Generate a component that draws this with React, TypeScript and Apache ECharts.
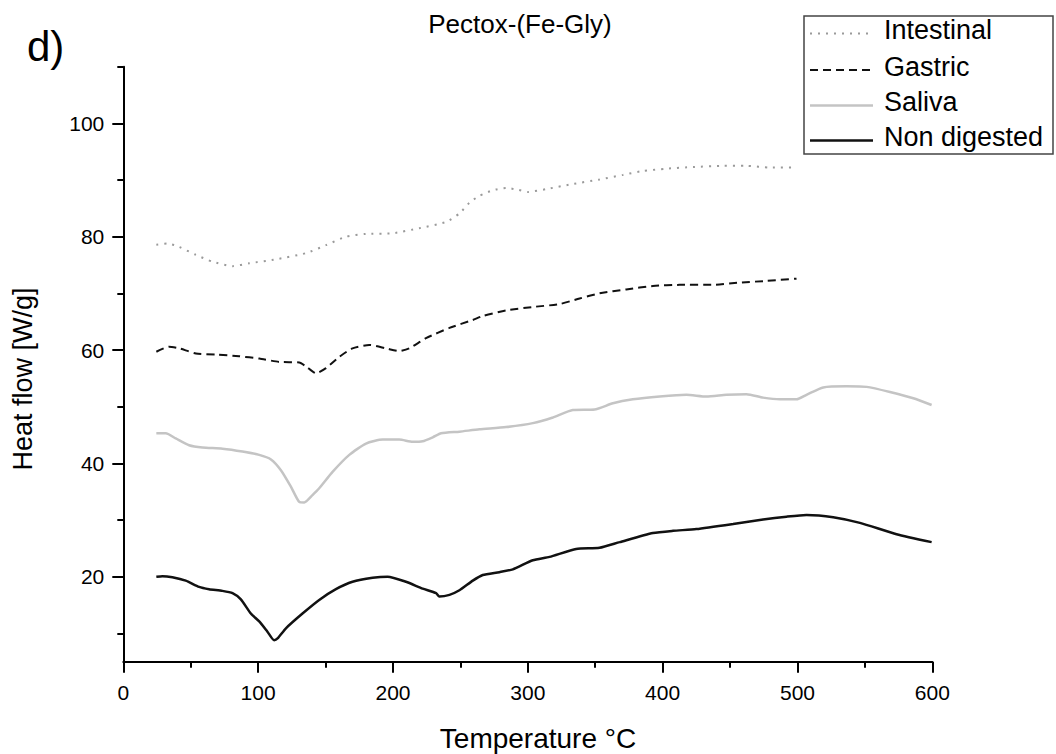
import React, { useEffect, useRef } from "react";
import * as echarts from "echarts";

const chartTitle = "Pectox-(Fe-Gly)";
const panelLabel = "d)";
const xTitle = "Temperature °C";
const yTitle = "Heat flow [W/g]";
const seriesNames = ["Intestinal", "Gastric", "Saliva", "Non digested"];
const yMajorTicks = [20, 40, 60, 80, 100];
const yMinorTicks = [10, 30, 50, 70, 90, 110];

const intestinal: number[][] = [
  [24.5, 78.6], [32.7, 78.8], [41.4, 78.2], [53.8, 76.8], [66.1, 75.6], [81, 74.8],
  [93.3, 75.3], [113.2, 76.0], [135.5, 77.1], [150.3, 78.5], [165.1, 80.0], [180, 80.5],
  [199.7, 80.6], [219.5, 81.5], [239.4, 82.6], [249.3, 84.1], [256.7, 86.0], [264, 87.2],
  [274, 88.2], [284, 88.6], [292.6, 88.3], [300, 87.9], [313.7, 88.4], [333.4, 89.3],
  [353.2, 90.1], [370.5, 90.9], [385.4, 91.6], [402.8, 92.0], [422.5, 92.3], [444.8, 92.5],
  [462.2, 92.5], [479.5, 92.2], [499.3, 92.2],
];

const gastric: number[][] = [
  [24.5, 59.7], [33.9, 60.6], [41.4, 60.3], [53.8, 59.4], [68.6, 59.2], [85.9, 58.9],
  [100.8, 58.5], [115.6, 57.9], [130.5, 57.8], [135.5, 57.1], [142.9, 55.9], [150.3, 56.8],
  [160.2, 58.8], [170, 60.3], [182.4, 60.9], [194.8, 60.3], [204.7, 59.8], [212.1, 60.3],
  [224.5, 62.1], [241.9, 63.9], [259.2, 65.3], [266.6, 66.0], [283.9, 67.0], [303.7, 67.6],
  [323.5, 68.1], [338.4, 69.1], [353.2, 70.0], [373, 70.7], [392.8, 71.3], [412.7, 71.5],
  [437.4, 71.5], [457.2, 71.9], [477, 72.2], [499.3, 72.6],
];

const saliva: number[][] = [
  [24.5, 45.3], [31.5, 45.3], [38.9, 44.4], [48.8, 43.2], [58.7, 42.8], [73.5, 42.6],
  [88.4, 42.1], [100.8, 41.5], [109.5, 40.7], [116.9, 38.8], [124.3, 35.9], [130.5, 33.2],
  [134.2, 33.1], [140.3, 34.4], [145.3, 35.6], [155.2, 38.5], [167.6, 41.5], [180, 43.5],
  [192.4, 44.2], [204.7, 44.2], [214.6, 43.8], [222, 43.9], [229.5, 44.6], [235.7, 45.3],
  [249.3, 45.6], [264.1, 46.0], [283.9, 46.4], [303.7, 47.1], [318.6, 48.1], [333.4, 49.4],
  [349.5, 49.5], [363.1, 50.6], [377.9, 51.3], [397.8, 51.8], [417.6, 52.1], [432.5, 51.8],
  [447.3, 52.1], [462.2, 52.2], [474.5, 51.6], [486.9, 51.3], [499.3, 51.3], [506.7, 52.1],
  [519.1, 53.4], [536.4, 53.6], [551.3, 53.5], [568.6, 52.6], [585.9, 51.5], [599.5, 50.3],
];

const nonDigested: number[][] = [
  [24.5, 20.0], [29, 20.1], [36.4, 19.9], [46.3, 19.3], [56.2, 18.2], [63.6, 17.8],
  [73.5, 17.5], [81, 17.1], [87.2, 16.0], [94.6, 13.5], [100.8, 12.1], [106.9, 10.3],
  [111.9, 8.8], [114.4, 9.1], [120.6, 10.9], [132.9, 13.5], [145.3, 15.9], [157.7, 17.8],
  [170, 19.1], [184.9, 19.8], [196, 20.0], [209.7, 19.1], [222, 17.9], [232, 17.1],
  [234.4, 16.5], [241.9, 16.8], [249.3, 17.6], [259.2, 19.3], [266.6, 20.3], [278.9, 20.8],
  [288.9, 21.3], [303.7, 22.9], [316.1, 23.5], [335.9, 24.9], [353.2, 25.1], [368.1, 26.1],
  [392.8, 27.7], [407.7, 28.1], [425, 28.4], [452.3, 29.3], [474.5, 30.1], [491.9, 30.6],
  [506.7, 30.9], [526.5, 30.5], [546.3, 29.5], [573.5, 27.5], [599.5, 26.1],
];

const FONT = "'Liberation Sans', Arial, sans-serif";

const styles = [
  { color: "#9a9a9a", width: 2, dash: [2, 6] as any },
  { color: "#111111", width: 2, dash: [8, 5] as any },
  { color: "#c4c4c4", width: 2.5, dash: "solid" as any },
  { color: "#111111", width: 2.5, dash: "solid" as any },
];
const seriesData = [intestinal, gastric, saliva, nonDigested];

export default function App() {
  const ref = useRef<HTMLDivElement>(null);
  useEffect(() => {
    if (!ref.current) return;
    const chart = echarts.init(ref.current, null, { renderer: "svg" });
    const legendX = 804;
    const legendLineY = [33.5, 70, 105.5, 140.5];
    const legendTextY = [43, 80, 115, 150];
    const graphic: any[] = [
      {
        type: "text",
        x: 520,
        y: 37,
        style: { text: chartTitle, font: `26px ${FONT}`, fill: "#000", textAlign: "center", textVerticalAlign: "bottom" },
      },
      {
        type: "text",
        x: 27,
        y: 67,
        style: { text: panelLabel, font: `42px ${FONT}`, fill: "#000", textAlign: "left", textVerticalAlign: "bottom" },
      },
      {
        type: "text",
        x: 538,
        y: 752,
        style: { text: xTitle, font: `28px ${FONT}`, fill: "#000", textAlign: "center", textVerticalAlign: "bottom" },
      },
      {
        type: "text",
        x: 23,
        y: 379,
        rotation: Math.PI / 2,
        style: { text: yTitle, font: `27px ${FONT}`, fill: "#000", textAlign: "center", textVerticalAlign: "middle" },
      },
      {
        type: "rect",
        shape: { x: legendX, y: 16, width: 249, height: 138 },
        style: { fill: "#fff", stroke: "#444", lineWidth: 1.5 },
        z: 10,
      },
    ];
    seriesNames.forEach((name, i) => {
      graphic.push({
        type: "line",
        shape: { x1: 810, y1: legendLineY[i], x2: 873, y2: legendLineY[i] },
        style: { stroke: styles[i].color, lineWidth: styles[i].width, lineDash: styles[i].dash === "solid" ? null : styles[i].dash },
        z: 11,
      });
      graphic.push({
        type: "text",
        x: 884,
        y: legendTextY[i],
        style: { text: name, font: `27px ${FONT}`, fill: "#000", textAlign: "left", textVerticalAlign: "bottom" },
        z: 11,
      });
    });

    chart.setOption({
      animation: false,
      backgroundColor: "#fff",
      grid: { left: 123.3, right: 123.7, top: 66.7, bottom: 92.3, containLabel: false },
      xAxis: {
        type: "value",
        min: 0,
        max: 600,
        interval: 100,
        splitLine: { show: false },
        axisLine: { show: true, onZero: false, lineStyle: { color: "#000", width: 2 } },
        axisTick: { show: true, inside: false, length: 11, lineStyle: { color: "#000", width: 2 } },
        minorTick: { show: true, splitNumber: 2, length: 6, lineStyle: { color: "#000", width: 2 } },
        axisLabel: { color: "#000", fontSize: 21, fontFamily: FONT, margin: 20 },
      },
      yAxis: [
        {
          type: "value",
          min: 5,
          max: 110,
          position: "left",
          splitLine: { show: false },
          axisLine: { show: true, onZero: false, lineStyle: { color: "#000", width: 2 } },
          axisTick: { show: true, length: 11, customValues: yMajorTicks, lineStyle: { color: "#000", width: 2 } },
          axisLabel: { color: "#000", fontSize: 21, fontFamily: FONT, margin: 19, customValues: yMajorTicks },
        },
        {
          type: "value",
          min: 5,
          max: 110,
          position: "left",
          offset: 0,
          splitLine: { show: false },
          axisLine: { show: false },
          axisTick: { show: true, length: 6, customValues: yMinorTicks, lineStyle: { color: "#000", width: 2 } },
          axisLabel: { show: false },
        },
      ],
      series: seriesNames.map((name, i) => ({
        name,
        type: "line",
        yAxisIndex: 0,
        data: seriesData[i],
        showSymbol: false,
        smooth: 0.2,
        lineStyle: { color: styles[i].color, width: styles[i].width, type: styles[i].dash },
      })),
      graphic,
    });
    return () => chart.dispose();
  }, []);
  return <div ref={ref} style={{ position: "fixed", left: 0, top: 0, width: 1056, height: 754 }} />;
}
